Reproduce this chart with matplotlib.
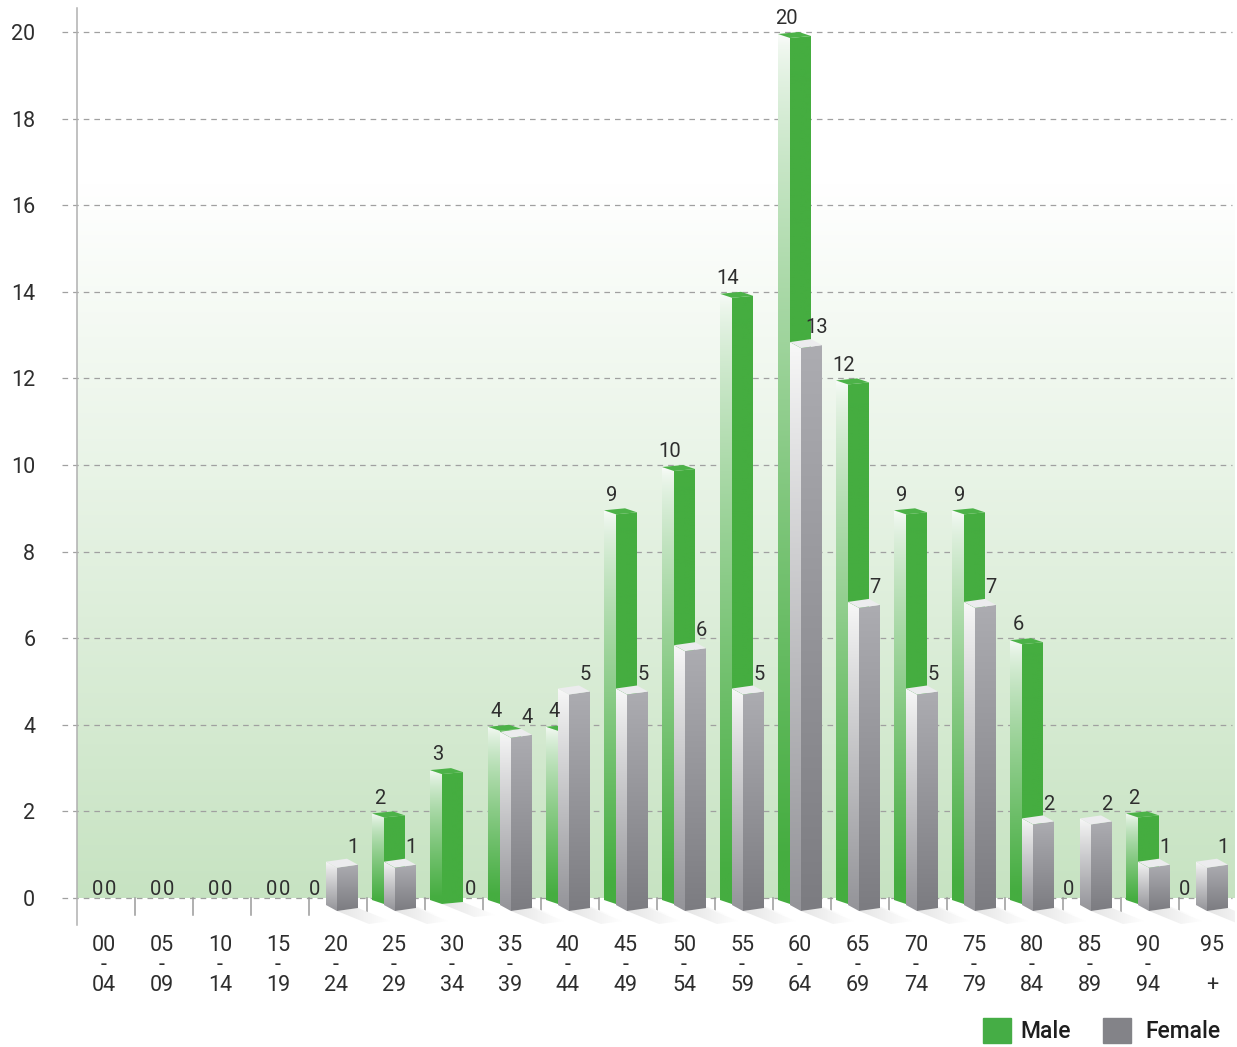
import numpy as np
import matplotlib.pyplot as plt
from matplotlib.patches import Polygon, Rectangle
from matplotlib.transforms import ScaledTranslation

plt.rcParams['font.family'] = ['Roboto', 'DejaVu Sans']

# --- data ---
groups = ["00\n-\n04", "05\n-\n09", "10\n-\n14", "15\n-\n19", "20\n-\n24",
          "25\n-\n29", "30\n-\n34", "35\n-\n39", "40\n-\n44", "45\n-\n49",
          "50\n-\n54", "55\n-\n59", "60\n-\n64", "65\n-\n69", "70\n-\n74",
          "75\n-\n79", "80\n-\n84", "85\n-\n89", "90\n-\n94", "95\n\n+"]
male = [0, 0, 0, 0, 0, 2, 3, 4, 4, 9, 10, 14, 20, 12, 9, 9, 6, 0, 2, 0]
female = [0, 0, 0, 0, 1, 1, 0, 4, 5, 5, 6, 5, 13, 7, 5, 7, 2, 2, 1, 1]
yticks = list(range(0, 21, 2))

W, H = 1237, 1047
PXX = 1 / 58.0    # data units per pixel (x)
PXY = 1 / 43.3    # data units per pixel (y)

GREEN = (69, 173, 64)
TEXT = '#2e2e2e'


def rgb(c):
    return tuple(v / 255 for v in c)


def grad_face(ax, verts, top, bottom, z, ease=1.0, gamma=1.0, horizontal=False):
    poly = Polygon(verts, closed=True, fc='none', ec='none')
    ax.add_patch(poly)
    xs = [p[0] for p in verts]
    ys = [p[1] for p in verts]
    t = np.linspace(0, 1, 128)
    s = np.clip(t / ease, 0, 1) ** gamma
    arr = (1 - s)[:, None] * np.array(top) + s[:, None] * np.array(bottom)
    arr = (arr / 255.0)[:, None, :]
    if horizontal:
        arr = arr.transpose(1, 0, 2)
    im = ax.imshow(arr, extent=[min(xs), max(xs), min(ys), max(ys)],
                   origin='upper', aspect='auto', interpolation='bilinear',
                   zorder=z)
    im.set_clip_path(poly)


def box(ax, c, v, geom, style, z):
    xL, xF, xR, bL, bF, bR = geom
    L0 = (c + xL * PXX, -bL * PXY)
    F0 = (c + xF * PXX, -bF * PXY)
    R0 = (c + xR * PXX, -bR * PXY)
    L1 = (L0[0], L0[1] + v)
    F1 = (F0[0], F0[1] + v)
    R1 = (R0[0], R0[1] + v)
    B1 = (L1[0] + R1[0] - F1[0], L1[1] + R1[1] - F1[1])

    # floor shadow, fading to the right
    sx, sy = 32 * PXX, -13 * PXY
    grad_face(ax, [F0, R0, (R0[0] + sx, R0[1] + sy), (F0[0] + sx, F0[1] + sy)],
              (228, 228, 228), (255, 255, 255), 2, horizontal=True)

    grad_face(ax, [L0, F0, F1, L1], style['left_top'], style['left_bot'], z,
              ease=style['ease'], gamma=style['gamma'])
    grad_face(ax, [F0, R0, R1, F1], style['right_top'], style['right_bot'], z)
    ax.add_patch(Polygon([L1, F1, R1, B1], closed=True, fc=rgb(style['top']),
                         ec='none', zorder=z + 0.1))


male_geom = (-22, -10, 11, 2, 6, 4)
female_geom = (-10, 1, 22, 7, 13, 10)
male_style = dict(left_top=(248, 251, 248), left_bot=GREEN, ease=0.95, gamma=0.7,
                  right_top=GREEN, right_bot=GREEN, top=(76, 178, 72))
female_style = dict(left_top=(248, 248, 248), left_bot=(148, 148, 153), ease=1.0, gamma=0.9,
                    right_top=(172, 172, 177), right_bot=(124, 124, 129), top=(236, 236, 238))

fig = plt.figure(figsize=(W / 100, H / 100), dpi=100)
ax = fig.add_axes([77 / W, (H - 925) / H, (1235 - 77) / W, (925 - 8) / H])

x0, x1 = (77 - 104) * PXX, (1235 - 104) * PXX
y0, y1 = -(925 - 898) * PXY, (898 - 8) * PXY

# background gradient (white at top -> light green at floor)
vals = np.linspace(y1, 0, 256)
s = np.clip((16.5 - vals) / 16.5, 0, 1)
bg = (1 - s)[:, None] * np.array([255, 255, 255]) + s[:, None] * np.array([199, 227, 194])
ax.imshow((bg / 255.0)[:, None, :], extent=[x0, x1, 0, y1], origin='upper',
          aspect='auto', interpolation='bilinear', zorder=0)

# dashed gridlines (extend a bit left of the axis)
for yv in yticks:
    ax.plot([(62 - 104) * PXX, (1232 - 104) * PXX], [yv, yv], color='#a0a0a0',
            lw=0.9, dashes=(4.5, 4), zorder=1, clip_on=False)

# floor ticks between groups
for i in range(len(groups) - 1):
    ax.plot([i + 0.53, i + 0.53], [0, -17 * PXY], color='#9a9a9a', lw=1.1,
            zorder=1, clip_on=False)

label_kw = dict(fontsize=14.5, color=TEXT, ha='center', va='baseline', zorder=8)

for i, (m, f) in enumerate(zip(male, female)):
    if m > 0:
        box(ax, i, m, male_geom, male_style, 3)
    if f > 0:
        box(ax, i, f, female_geom, female_style, 5)

    # value labels
    if m == 0 and f == 0:
        mx, fx = -6, 7
    else:
        mx = -14 if m > 0 else -21
        fx = 17 if f > 0 else 19
    my = m + 0.18 if m > 0 else 0.07
    fy = f + 0.04 if f > 0 else 0.07
    ax.text(i + mx * PXX, my, str(m), **label_kw)
    ax.text(i + fx * PXX, fy, str(f), **label_kw)

ax.set_xlim(x0, x1)
ax.set_ylim(y0, y1)

ax.set_xticks(range(len(groups)))
ax.set_xticklabels(groups, fontsize=15.5, color=TEXT, linespacing=0.95)
ax.set_yticks(yticks)
ax.set_yticklabels([str(v) for v in yticks], fontsize=15.5, color=TEXT)
ax.tick_params(axis='x', length=0, pad=7)
ax.tick_params(axis='y', length=0, pad=30)
last = ax.get_xticklabels()[-1]
last.set_transform(last.get_transform() + ScaledTranslation(0.06, 0, fig.dpi_scale_trans))

for side in ['top', 'right', 'bottom']:
    ax.spines[side].set_visible(False)
ax.spines['left'].set_color('#b0b0b0')
ax.spines['left'].set_linewidth(1.1)
ax.spines['left'].set_zorder(9)

# legend
fig.add_artist(Rectangle((983 / W, 1 - 1043 / H), 28 / W, 25 / H,
                         transform=fig.transFigure, color='#45ad45'))
fig.text(1020 / W, 1 - 1032 / H, "Male", fontsize=16.5, color='#1e1e1e',
         va='center', ha='left', fontweight='medium')
fig.add_artist(Rectangle((1103 / W, 1 - 1043 / H), 28 / W, 25 / H,
                         transform=fig.transFigure, color='#838388'))
fig.text(1145 / W, 1 - 1032 / H, "Female", fontsize=16.5, color='#1e1e1e',
         va='center', ha='left', fontweight='medium')

fig.savefig("out.png", dpi=100, facecolor='white')
